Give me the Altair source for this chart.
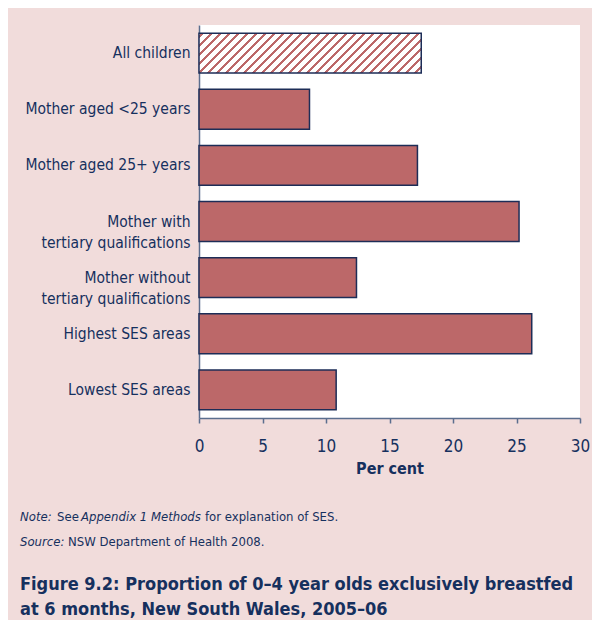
import altair as alt
import pandas as pd

# ---- data ----
categories = [
    "All children",
    "Mother aged <25 years",
    "Mother aged 25+ years",
    "Mother with\ntertiary qualifications",
    "Mother without\ntertiary qualifications",
    "Highest SES areas",
    "Lowest SES areas",
]
values = [17.5, 8.7, 17.2, 25.2, 12.4, 26.2, 10.8]
hatched = [True, False, False, False, False, False, False]
x_ticks = [0, 5, 10, 15, 20, 25, 30]

x_title = "Per cent"
note_segments = [("Note:", "italic"), ("See", "normal"), ("Appendix 1 Methods", "italic"),
                 ("for explanation of SES.", "normal")]
source_segments = [("Source:", "italic"), ("NSW Department of Health 2008.", "normal")]
title_lines = ["Figure 9.2: Proportion of 0\u20134 year olds exclusively breastfed",
               "at 6 months, New South Wales, 2005\u201306"]

df = pd.DataFrame({"cat": categories, "value": values, "hatched": hatched})

# ---- style ----
FONT = "DejaVu Sans Condensed, Roboto Condensed, Roboto, sans-serif"
NAVY = "#16305e"
AXIS = "#5b6e8e"
RED = "#bc6869"
BG = "#f1dcdb"
W, H = 381, 393

xs = alt.Scale(domain=[0, 30], nice=False)
ys = alt.Scale(domain=categories, paddingInner=0.29, paddingOuter=0.145)

x_enc = alt.X("value:Q", scale=xs, title=x_title,
              axis=alt.Axis(values=x_ticks, grid=False, tickSize=5, tickColor=AXIS,
                            domainColor=AXIS, domainWidth=1.5, tickWidth=1.5,
                            labelFlush=False,
                            labelColor=NAVY, labelFont=FONT, labelFontSize=17,
                            labelPadding=15, titleFont=FONT, titleFontSize=16,
                            titleFontWeight="bold", titleColor=NAVY, titlePadding=6))
y_enc = alt.Y("cat:N", scale=ys, sort=categories, title=None,
              axis=alt.Axis(ticks=False, domainColor=AXIS, domainWidth=1.5,
                            labelColor=NAVY, labelFont=FONT, labelFontSize=15.5,
                            labelPadding=9, labelLineHeight=21, labelLimit=300,
                            labelExpr="split(datum.label, '\\n')"))

base = alt.Chart(df).encode(x=x_enc, y=y_enc)

solid = base.transform_filter("!datum.hatched").mark_bar(
    fill=RED, stroke="#1d2d57", strokeWidth=1.5)

# hatching: a striped linear gradient whose stripes run at 45 degrees in pixels
bw = values[0] / 30 * W
bh = H / (len(categories) - 0.29 + 2 * 0.145) * (1 - 0.29)
r = bh / bw
L = bw + bh
period = 9.0
stops = []
k = 0
while k * period < L:
    a = k * period / L
    s1 = min(1, a + 2.6 / L)
    s2 = min(1, a + 5.6 / L)
    stops += [{"offset": a, "color": "white"}, {"offset": s1, "color": "white"},
              {"offset": s1, "color": RED}, {"offset": s2, "color": RED},
              {"offset": s2, "color": "white"}]
    k += 1
g = (1 + r) / (1 + r * r)
grad = alt.LinearGradient(gradient="linear", x1=0, y1=0, x2=g, y2=g * r, stops=stops)
hatch = base.transform_filter("datum.hatched").mark_bar(
    fill=grad, stroke="#1d2d57", strokeWidth=1.5)


def txt(s, x, y, size, weight="normal", style="normal"):
    return alt.Chart(pd.DataFrame({"t": [s]})).mark_text(
        align="left", baseline="alphabetic", font=FONT, fontSize=size,
        fontWeight=weight, fontStyle=style, color=NAVY
    ).encode(x=alt.value(x), y=alt.value(y), text="t:N")


OX, OY = 199, 25
note_x = [20, 57, 81, 205]
src_x = [20, 68]
layers = [solid, hatch]
for (s, st), px in zip(note_segments, note_x):
    layers.append(txt(s, px - OX, 521 - OY, 13, style=st))
for (s, st), px in zip(source_segments, src_x):
    layers.append(txt(s, px - OX, 546 - OY, 13, style=st))
for i, line in enumerate(title_lines):
    layers.append(txt(line, 20 - OX, 590 - OY + i * 25, 18, weight="bold"))

chart = alt.layer(*layers).properties(
    width=W, height=H, background=BG,
    autosize=alt.AutoSizeParams(type="none"),
    padding={"left": 191, "top": 17, "right": 12, "bottom": 202},
).configure_view(fill="white", stroke=None)

chart.save("out.html", embed_options={"renderer": "svg", "actions": False})
